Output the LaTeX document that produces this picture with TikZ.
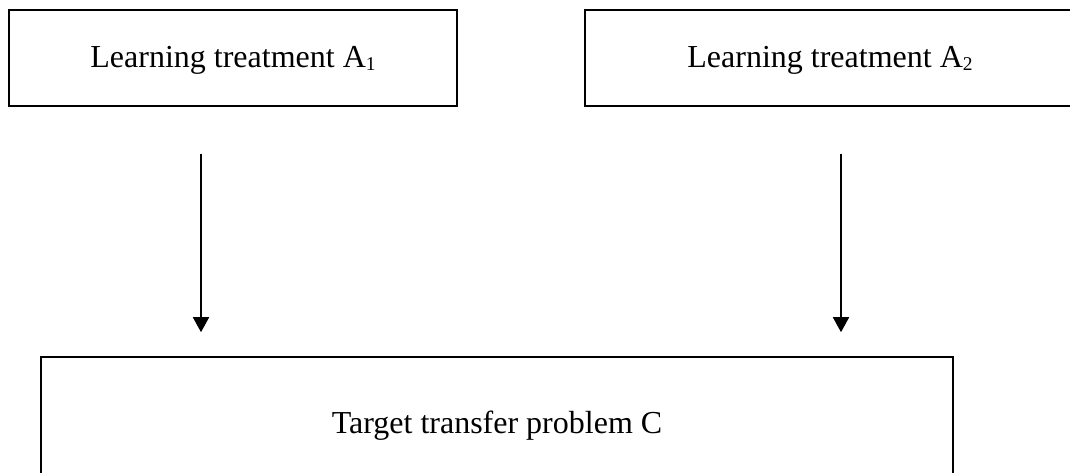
\documentclass[tikz,border=0pt]{standalone}
\usepackage{fontspec}
\setmainfont{Liberation Serif}
\usetikzlibrary{arrows.meta}
\newcommand{\lowidx}[1]{\raisebox{-3.5pt}{\fontsize{19.5}{19.5}\selectfont #1}}
\begin{document}
\begin{tikzpicture}[x=1pt,y=-1pt,
  box/.style={draw=black, line width=1.6pt, rectangle, inner sep=0pt,
    font=\fontsize{32}{38}\selectfont},
  arr/.style={draw=black, line width=1.8pt,
    -{Triangle[length=15pt,width=16pt]}}]
  \useasboundingbox (0,0) rectangle (1070,473);
  \begin{scope}
    \clip (0,0) rectangle (1070,473);
    % the two learning treatments
    \node[box, minimum width=448pt, minimum height=96pt,
      text height=24pt, text depth=5pt] (a1) at (233,58)
      {Learning treatment A\lowidx{1}};
    \node[box, minimum width=490pt, minimum height=96pt,
      text height=24pt, text depth=5pt] (a2) at (830,58)
      {Learning treatment A\lowidx{2}};
    % the common target problem
    \node[box, minimum width=912pt, minimum height=132pt,
      text height=26pt, text depth=6pt] (c) at (497,423)
      {Target transfer problem C};
    % arrow columns
    \coordinate (x1) at (201,0);
    \coordinate (x2) at (841,0);
    \draw[arr, shorten <=47pt, shorten >=24pt] (a1.south -| x1) -- (c.north -| x1);
    \draw[arr, shorten <=47pt, shorten >=24pt] (a2.south -| x2) -- (c.north -| x2);
  \end{scope}
\end{tikzpicture}
\end{document}
